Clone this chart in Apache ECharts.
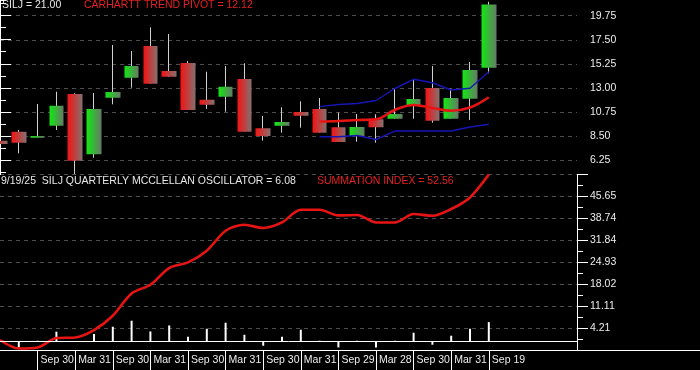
<!DOCTYPE html>
<html><head><meta charset="utf-8">
<script src="https://cdn.jsdelivr.net/npm/echarts@6/dist/echarts.min.js"></script>
<style>html,body{margin:0;padding:0;background:#000;}#c{width:700px;height:370px;}</style>
</head><body><div id="c"></div>
<script>
// ---- data (quarterly, index 0 = Q1 2019 ... 26 = Q3 2025) ----
const xLabelPos = [2, 4, 6, 8, 10, 12, 14, 16, 18, 20, 22, 24, 26];
const xLabels = ['Sep 30','Mar 31','Sep 30','Mar 31','Sep 30','Mar 31','Sep 30','Mar 31','Sep 29','Mar 28','Sep 30','Mar 31','Sep 19'];

const open  = [8.06, 8.90, 8.34, 9.46, 12.43, 6.78, 12.08, 13.95, 16.92, 14.58, 15.33, 11.89, 12.17, 13.83, 9.22, 9.46, 10.74, 11.02, 9.31, 8.50, 10.06, 10.11, 11.30, 12.99, 10.11, 11.99, 14.89];
const close = [7.75, 7.87, 8.50, 11.33, 6.19, 11.02, 12.61, 15.04, 13.39, 14.04, 10.93, 11.42, 13.11, 8.90, 8.50, 9.81, 10.40, 8.81, 7.94, 9.34, 9.31, 10.55, 11.96, 9.93, 12.05, 14.67, 20.80];
const low   = [7.75, 6.88, 8.34, 9.06, 4.94, 6.47, 11.46, 13.01, 13.39, 14.04, 10.93, 11.02, 10.77, 8.90, 8.06, 8.81, 9.27, 8.81, 7.94, 7.96, 7.87, 10.11, 10.11, 9.74, 10.11, 9.99, 14.36];
const high  = [9.81, 9.06, 11.49, 12.64, 12.49, 12.52, 17.01, 16.45, 18.66, 18.04, 15.51, 14.51, 15.04, 15.30, 10.37, 11.18, 11.74, 12.05, 10.67, 10.55, 10.53, 12.96, 13.80, 15.04, 12.92, 15.42, 21.05];

const bandStart = 17;
const pivot = [9.85, 9.90, 9.99, 10.06, 10.93, 11.40, 11.12, 10.86, 11.16, 12.12];
const upperBand = [11.24, 11.44, 11.54, 11.82, 12.94, 13.80, 13.48, 12.80, 12.96, 14.51];
const lowerBand = [8.43, 8.43, 8.54, 8.17, 8.96, 8.96, 8.96, 8.96, 9.34, 9.60];

const summation = [0.44, -2.21, -1.89, 1.07, 1.26, 3.59, 8.10, 15.12, 17.86, 23.13, 24.89, 28.58, 34.88, 36.77, 35.73, 37.49, 41.49, 41.49, 39.70, 39.82, 37.49, 37.49, 40.14, 39.60, 41.71, 45.37, 52.56];
const oscillator = [0, -1.89, 0.22, 3.06, 0, 2.33, 4.63, 6.52, 3.15, 5.04, 1.48, 4.00, 5.89, 2.11, -1.35, 1.48, 3.69, 0.22, -1.89, 0.22, -1.89, 0.22, 2.74, -1.04, 1.80, 4.00, 6.08];

const topTickLabels = ['6.25','8.50','10.75','13.00','15.25','17.50','19.75'];
const bottomTickLabels = ['','4.21','11.11','18.02','24.93','31.84','38.74','45.65',''];

// ---- build ----
const FONT = 'Liberation Sans, Arial, sans-serif';
const PX = 18.8;           // pixels per quarter
const PLOT_W = 577;
const xMaxPlot = PLOT_W / PX;
const xMaxStrip = 700 / PX;

const candles = open.map((o, i) => [i, o, close[i], low[i], high[i]]);
const withX = (arr, start) => arr.map((v, k) => [start + k, v]);

const redGrad = new echarts.graphic.LinearGradient(0, 0, 1, 0, [
  {offset: 0, color: '#f51212'}, {offset: 1, color: '#857070'}]);
const greenGrad = new echarts.graphic.LinearGradient(0, 0, 1, 0, [
  {offset: 0, color: '#12e812'}, {offset: 1, color: '#667a66'}]);

const white = '#ffffff';
const gridLine = {show: true, lineStyle: {color: '#4e4e4e', type: [4, 4], width: 1}};
const labelStyle = {color: '#ececec', fontSize: 10.5, fontFamily: FONT};

const hiddenX = (g, max) => ({type: 'value', gridIndex: g, min: 0, max: max, show: false});

const option = {
  backgroundColor: '#000000',
  animation: false,
  title: [
    {text: 'SILJ = 21.00', left: 2, top: 0, padding: 0, textStyle: {color: '#e8e8e8', fontSize: 10.5, fontWeight: 'normal', fontFamily: FONT}},
    {text: 'CARHARTT TREND PIVOT = 12.12', left: 84, top: 0, padding: 0, textStyle: {color: '#e52020', fontSize: 10.5, fontWeight: 'normal', fontFamily: FONT}},
    {text: '9/19/25  SILJ QUARTERLY MCCLELLAN OSCILLATOR = 6.08', left: 1, top: 176, padding: 0, textStyle: {color: '#e8e8e8', fontSize: 10.5, fontWeight: 'normal', fontFamily: FONT}},
    {text: 'SUMMATION INDEX = 52.56', left: 317, top: 176, padding: 0, textStyle: {color: '#e52020', fontSize: 10.5, fontWeight: 'normal', fontFamily: FONT}}
  ],
  grid: [
    {left: 0, top: 0, width: PLOT_W, height: 174.6, outerBoundsMode: 'none'},      // 0 top panel (data)
    {left: 0, top: 0, width: PLOT_W, height: 172, outerBoundsMode: 'none'},        // 1 top minor ticks
    {left: 0, top: 15.7, width: PLOT_W, height: 144.3, outerBoundsMode: 'none'},   // 2 top major ticks
    {left: 0, top: 174.6, width: PLOT_W, height: 175.4, outerBoundsMode: 'none'},  // 3 bottom panel
    {left: 0, top: 349, width: 700, height: 1, outerBoundsMode: 'none'}            // 4 date strip
  ],
  xAxis: [
    hiddenX(0, xMaxPlot), hiddenX(1, xMaxPlot), hiddenX(2, xMaxPlot), hiddenX(3, xMaxPlot),
    {type: 'value', gridIndex: 4, min: 0, max: xMaxStrip, position: 'bottom',
      axisLine: {show: true, onZero: false, lineStyle: {color: white, width: 1}},
      axisTick: {show: true, inside: false, length: 20, customValues: xLabelPos, lineStyle: {color: white, width: 1}},
      axisLabel: Object.assign({show: true, customValues: xLabelPos, align: 'left', margin: 5, padding: [0, 0, 0, 3],
        formatter: v => xLabels[xLabelPos.indexOf(Math.round(v))] || ''}, labelStyle),
      splitLine: {show: false}}
  ],
  yAxis: [
    {type: 'value', gridIndex: 0, position: 'right', min: 4.8856, max: 21.2187,
      axisLine: {show: true, lineStyle: {color: white, width: 1}}, axisTick: {show: false},
      axisLabel: {show: false}, splitLine: {show: false}},
    {type: 'value', gridIndex: 1, position: 'right', min: 5.125, max: 21.2149, interval: 1.125,
      axisLine: {show: false}, axisTick: {show: true, length: 6, lineStyle: {color: white}},
      axisLabel: {show: false}, splitLine: {show: false}},
    {type: 'value', gridIndex: 2, position: 'right', min: 6.25, max: 19.75, interval: 2.25,
      axisLine: {show: true, lineStyle: {color: white, width: 1}},
      axisTick: {show: true, length: 11, lineStyle: {color: white}},
      axisLabel: Object.assign({show: true, margin: 13, formatter: (v, i) => topTickLabels[i] || ''}, labelStyle),
      splitLine: gridLine},
    {type: 'value', gridIndex: 3, position: 'right', min: -2.7, max: 52.56, interval: 6.9075,
      axisLine: {show: true, onZero: false, lineStyle: {color: white, width: 1}},
      axisTick: {show: true, length: 11, lineStyle: {color: white}},
      minorTick: {show: true, splitNumber: 2, length: 6, lineStyle: {color: white}},
      axisLabel: Object.assign({show: true, margin: 13, formatter: (v, i) => bottomTickLabels[i] || ''}, labelStyle),
      splitLine: gridLine},
    {type: 'value', gridIndex: 4, show: false}
  ],
  series: [
    {name: 'wick', type: 'candlestick', xAxisIndex: 0, yAxisIndex: 0, clip: false, barWidth: 1,
      encode: {x: 0, y: [1, 2, 3, 4]}, data: candles, z: 2,
      itemStyle: {color: '#cfcfcf', color0: '#cfcfcf', borderColor: '#cfcfcf', borderColor0: '#cfcfcf', borderWidth: 1}},
    {name: 'SILJ', type: 'candlestick', xAxisIndex: 0, yAxisIndex: 0, clip: false, barWidth: 15,
      encode: {x: 0, y: [1, 2, 3, 4]}, data: candles, z: 3,
      itemStyle: {color: greenGrad, color0: redGrad, borderWidth: 0, borderColor: 'transparent', borderColor0: 'transparent'}},
    {name: 'upper', type: 'line', xAxisIndex: 0, yAxisIndex: 0, data: withX(upperBand, bandStart), symbol: 'none', z: 4,
      lineStyle: {color: '#1616b8', width: 1.4}},
    {name: 'lower', type: 'line', xAxisIndex: 0, yAxisIndex: 0, data: withX(lowerBand, bandStart), symbol: 'none', z: 4,
      lineStyle: {color: '#1616b8', width: 1.4}},
    {name: 'pivot', type: 'line', xAxisIndex: 0, yAxisIndex: 0, data: withX(pivot, bandStart), symbol: 'none', smooth: 0.4, z: 5,
      lineStyle: {color: '#e81414', width: 2.6}},
    {name: 'oscillator', type: 'bar', xAxisIndex: 3, yAxisIndex: 3, barWidth: 2, data: withX(oscillator, 0), z: 3,
      itemStyle: {color: white},
      markLine: {silent: true, symbol: ['none', 'none'], label: {show: false}, animation: false,
        lineStyle: {color: white, width: 1, type: 'solid'}, data: [{yAxis: 0}]}},
    {name: 'summation', type: 'line', xAxisIndex: 3, yAxisIndex: 3, data: withX(summation, 0), symbol: 'none', smooth: 0.3, z: 4,
      lineStyle: {color: '#e81414', width: 2.6}}
  ]
};
const chart = echarts.init(document.getElementById('c'), null, {renderer: 'canvas'});
chart.setOption(option);
</script></body></html>
